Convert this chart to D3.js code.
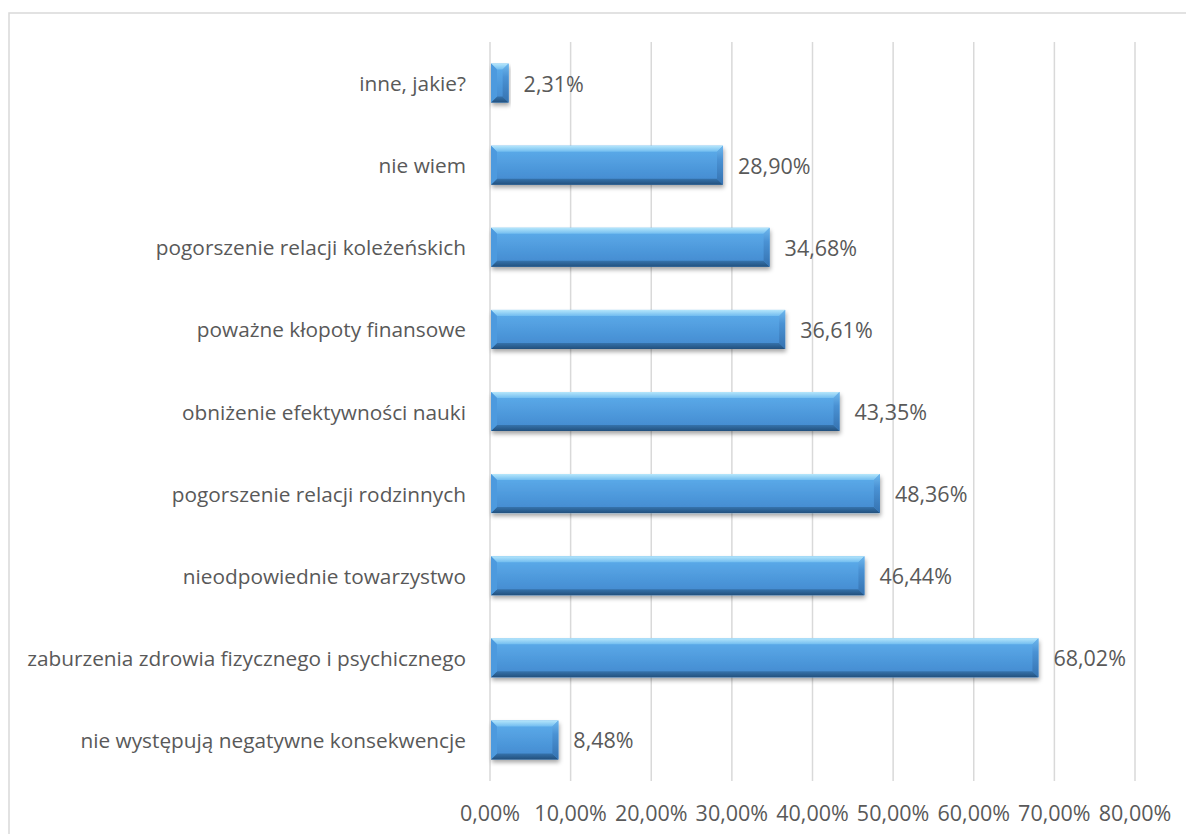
<!DOCTYPE html>
<html>
<head>
<meta charset="utf-8">
<script src="https://cdn.jsdelivr.net/npm/d3@7"></script>
<style>
  html, body { margin: 0; padding: 0; background: #fff; }
  svg { display: block; }
  text { font-family: "Open Sans", "Noto Sans", sans-serif; fill: #595959; }
</style>
</head>
<body>
<svg id="chart" width="1186" height="834"></svg>
<script>
// Negative consequences — share of answers (%)
const categories = [
  "inne, jakie?",
  "nie wiem",
  "pogorszenie relacji koleżeńskich",
  "poważne kłopoty finansowe",
  "obniżenie efektywności nauki",
  "pogorszenie relacji rodzinnych",
  "nieodpowiednie towarzystwo",
  "zaburzenia zdrowia fizycznego i psychicznego",
  "nie występują negatywne konsekwencje"
];
const values = [2.31, 28.90, 34.68, 36.61, 43.35, 48.36, 46.44, 68.02, 8.48];
const tickValues = [0, 10, 20, 30, 40, 50, 60, 70, 80];

const svg = d3.select("#chart");
const fmt = v => v.toFixed(2).replace(".", ",") + "%";

// Chart frame
svg.append("rect")
  .attr("x", 9).attr("y", 13)
  .attr("width", 1190).attr("height", 830)
  .attr("fill", "none").attr("stroke", "#d9d9d9").attr("stroke-width", 1.5);

const x = d3.scaleLinear().domain([0, 80]).range([490, 1135]);
const y = d3.scaleBand().domain(categories).range([42, 781]).paddingInner(0.525).paddingOuter(0.2625);

const defs = svg.append("defs");
const body = defs.append("linearGradient").attr("id", "barBody")
  .attr("x1", 0).attr("y1", 0).attr("x2", 0).attr("y2", 1);
body.append("stop").attr("offset", "0%").attr("stop-color", "#5eaeec");
body.append("stop").attr("offset", "100%").attr("stop-color", "#4188ce");

const topG = defs.append("linearGradient").attr("id", "barTop")
  .attr("x1", 0).attr("y1", 0).attr("x2", 0).attr("y2", 1);
topG.append("stop").attr("offset", "0%").attr("stop-color", "#b5e6fb");
topG.append("stop").attr("offset", "100%").attr("stop-color", "#72bdf0");

const botG = defs.append("linearGradient").attr("id", "barBot")
  .attr("x1", 0).attr("y1", 0).attr("x2", 0).attr("y2", 1);
botG.append("stop").attr("offset", "0%").attr("stop-color", "#3673ac");
botG.append("stop").attr("offset", "100%").attr("stop-color", "#22507d");

const rightG = defs.append("linearGradient").attr("id", "barRight")
  .attr("x1", 0).attr("y1", 0).attr("x2", 0).attr("y2", 1);
rightG.append("stop").attr("offset", "0%").attr("stop-color", "#6fb8ee");
rightG.append("stop").attr("offset", "35%").attr("stop-color", "#4a92d4");
rightG.append("stop").attr("offset", "100%").attr("stop-color", "#3572b0");

const shadow = defs.append("filter").attr("id", "shadow")
  .attr("x", "-10%").attr("y", "-20%").attr("width", "120%").attr("height", "160%");
shadow.append("feDropShadow").attr("dx", 1).attr("dy", 3).attr("stdDeviation", 2.2)
  .attr("flood-color", "#000").attr("flood-opacity", 0.35);

// Gridlines
svg.append("g").selectAll("line").data(tickValues).join("line")
  .attr("x1", d => x(d)).attr("x2", d => x(d))
  .attr("y1", 42).attr("y2", 781)
  .attr("stroke", "#d9d9d9").attr("stroke-width", 1.5);

// X tick labels
svg.append("g").selectAll("text").data(tickValues).join("text")
  .attr("x", d => x(d)).attr("y", 812)
  .attr("text-anchor", "middle").attr("dominant-baseline", "central")
  .style("font-size", "21.5px")
  .text(d => fmt(d));

// Category labels
svg.append("g").selectAll("text").data(categories).join("text")
  .attr("x", x(0) - 24).attr("y", d => y(d) + y.bandwidth() / 2)
  .attr("text-anchor", "end").attr("dominant-baseline", "central")
  .style("font-size", "20.8px")
  .text(d => d);

// Bevelled bars
const bars = svg.append("g").selectAll("g").data(categories.map((c, i) => ({ c, v: values[i] })))
  .join("g");

bars.each(function(d) {
  const g = d3.select(this);
  const x0 = x(0) + 1, x1 = x(d.v), y0 = y(d.c), h = y.bandwidth(), y1 = y0 + h;
  const b = Math.min(6, (x1 - x0) / 2);
  g.append("rect").attr("x", x0).attr("y", y0).attr("width", x1 - x0).attr("height", h)
    .attr("fill", "url(#barBody)").attr("filter", "url(#shadow)");
  // top bevel
  g.append("polygon").attr("points", [[x0, y0], [x1, y0], [x1 - b, y0 + b], [x0 + b, y0 + b]].join(" "))
    .attr("fill", "url(#barTop)");
  // bottom bevel
  g.append("polygon").attr("points", [[x0, y1], [x1, y1], [x1 - b, y1 - b], [x0 + b, y1 - b]].join(" "))
    .attr("fill", "url(#barBot)");
  // left bevel
  g.append("polygon").attr("points", [[x0, y0], [x0 + b, y0 + b], [x0 + b, y1 - b], [x0, y1]].join(" "))
    .attr("fill", "#4d9ade");
  // right bevel
  g.append("polygon").attr("points", [[x1, y0], [x1 - b, y0 + b], [x1 - b, y1 - b], [x1, y1]].join(" "))
    .attr("fill", "url(#barRight)");
});

// Value labels
svg.append("g").selectAll("text").data(categories.map((c, i) => ({ c, v: values[i] }))).join("text")
  .attr("x", d => x(d.v) + 15).attr("y", d => y(d.c) + y.bandwidth() / 2)
  .attr("dominant-baseline", "central")
  .style("font-size", "21.5px")
  .text(d => fmt(d.v));
</script>
</body>
</html>
